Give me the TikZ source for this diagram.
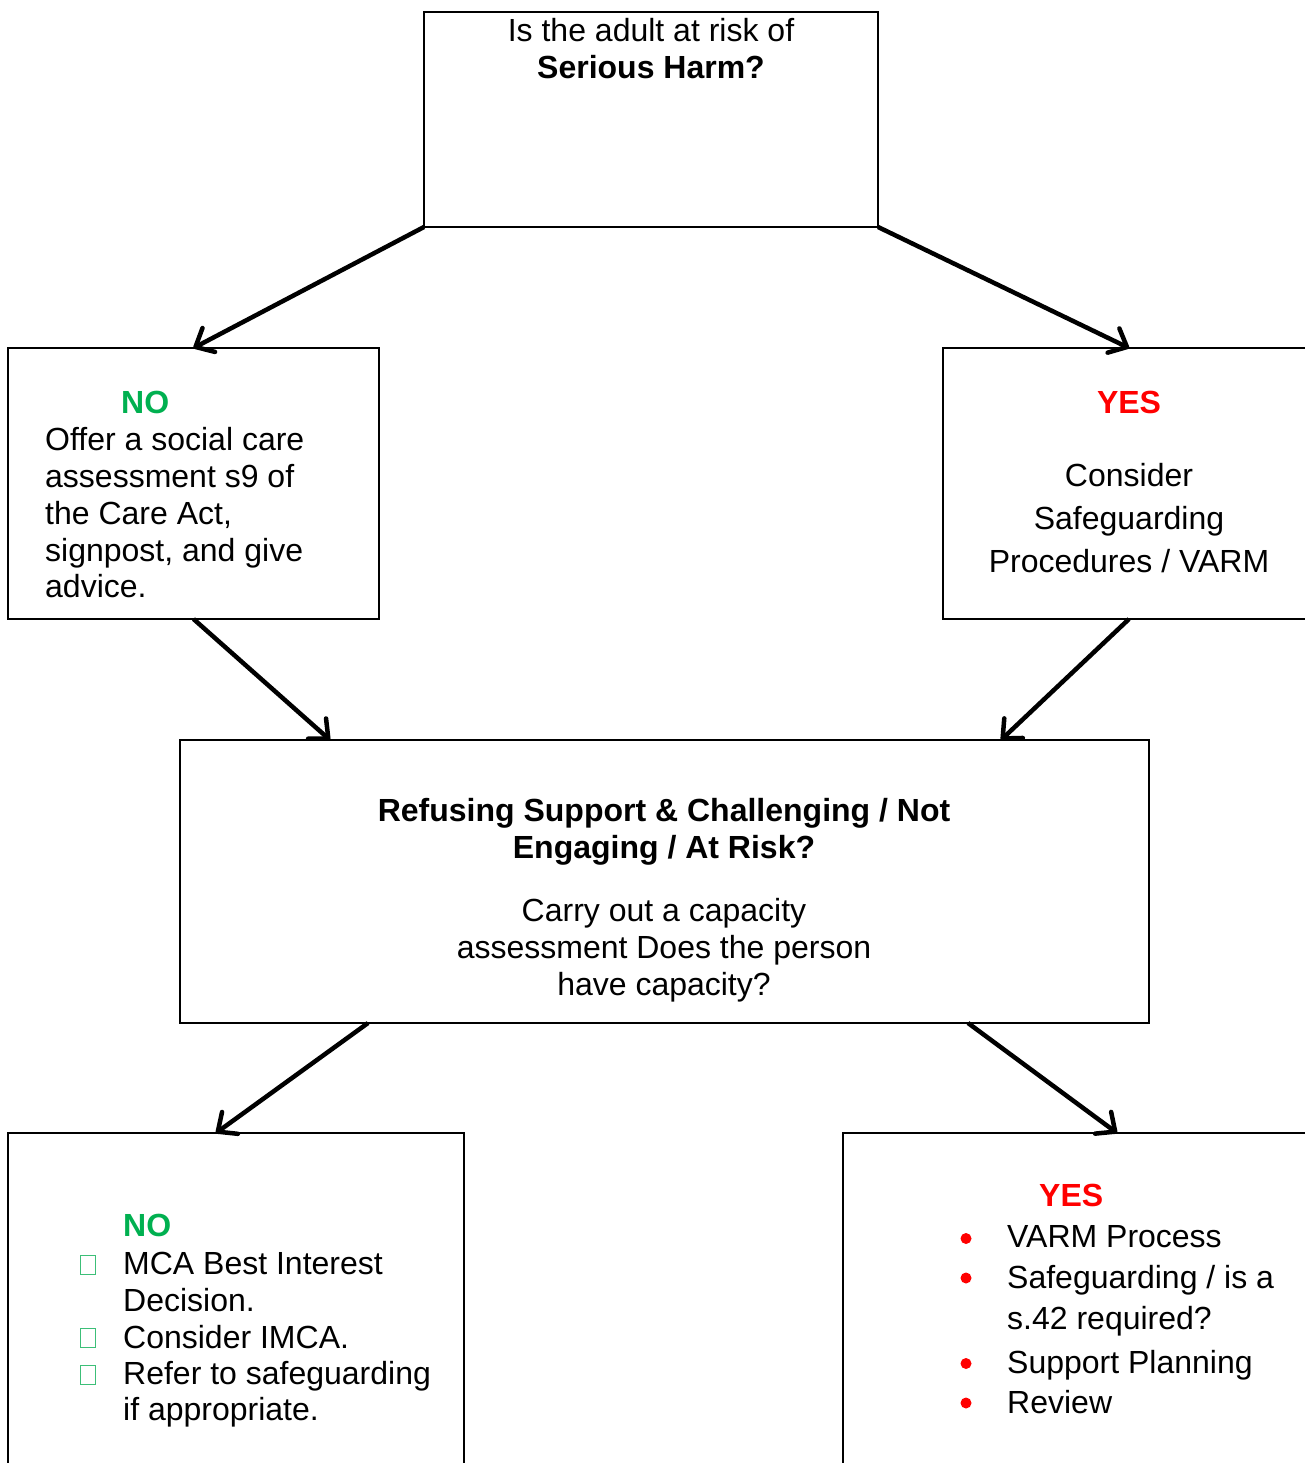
\documentclass[tikz,border=0pt]{standalone}
\usepackage{fontspec}
\setmainfont{Liberation Sans}
\usetikzlibrary{arrows.meta,calc}
\definecolor{nogreen}{HTML}{00B050}
\definecolor{sqgreen}{HTML}{3CBF78}
\definecolor{yesred}{HTML}{FF0000}
\begin{document}
\begin{tikzpicture}[x=1pt,y=-1pt,
  box/.style={draw, line width=1.3pt, rectangle, inner sep=0pt, outer sep=0pt, anchor=north west},
  conn/.style={line width=4.5pt, -{Straight Barb[length=15pt,width=27pt,round]}},
  txt/.style={inner sep=0pt, font=\fontsize{32}{37}\selectfont},
  bf/.style={txt, font=\fontsize{32}{37}\selectfont\bfseries},
  sqbullet/.style={draw=sqgreen, line width=0.9pt, rectangle, inner sep=0pt, minimum width=15pt, minimum height=19pt},
  dotbullet/.style={fill=yesred, circle, inner sep=0pt, minimum size=11pt}]
\useasboundingbox (0,0) rectangle (1305,1463);
\clip (0,0) rectangle (1305,1463);
\fill[white] (0,0) rectangle (1305,1463);
% boxes
\node[box, minimum width=454pt, minimum height=215pt] (top) at (424,12) {};
\node[box, minimum width=371pt, minimum height=271pt] (left) at (8,348) {};
\node[box, minimum width=372pt, minimum height=271pt] (right) at (943,348) {};
\node[box, minimum width=969pt, minimum height=283pt] (mid) at (180,740) {};
\node[box, minimum width=456pt, minimum height=380pt] (bl) at (8,1133) {};
\node[box, minimum width=472pt, minimum height=380pt] (br) at (843,1133) {};
% connectors
\draw[conn] (top.south west) -- (left.north);
\draw[conn] (top.south east) -- (right.north);
\draw[conn] (left.south) -- ($(mid.north west)+(150,0)$);
\draw[conn] (right.south) -- ($(mid.north west)+(821,0)$);
\draw[conn] ($(mid.south west)+(188,0)$) -- ($(bl.north west)+(208,0)$);
\draw[conn] ($(mid.south west)+(788,0)$) -- ($(br.north west)+(274,0)$);
% top text
\node[txt, anchor=base] (t1) at (651,42) {Is the adult at risk of};
\node[bf, anchor=base] (t2) at (651,79) {Serious Harm?};
% left text
\node[bf, anchor=base west, text=nogreen] (l0) at (121,413) {NO};
\node[txt, anchor=base west] (l1) at (45,450) {Offer a social care};
\node[txt, anchor=base west] (l2) at (45,487) {assessment s9 of};
\node[txt, anchor=base west] (l3) at (45,524) {the Care Act,};
\node[txt, anchor=base west] (l4) at (45,561) {signpost, and give};
\node[txt, anchor=base west] (l5) at (45,597) {advice.};
% right text
\node[bf, anchor=base, text=yesred] (r0) at (1129,413) {YES};
\node[txt, anchor=base] (r1) at (1129,486) {Consider};
\node[txt, anchor=base] (r2) at (1129,529) {Safeguarding};
\node[txt, anchor=base] (r3) at (1129,572) {Procedures / VARM};
% middle text
\node[bf, anchor=base] (m1) at (664,821) {Refusing Support \& Challenging / Not};
\node[bf, anchor=base] (m2) at (664,858) {Engaging / At Risk?};
\node[txt, anchor=base] (m3) at (664,921) {Carry out a capacity};
\node[txt, anchor=base] (m4) at (664,958) {assessment Does the person};
\node[txt, anchor=base] (m5) at (664,995) {have capacity?};
% bottom left text
\node[bf, anchor=base west, text=nogreen] (n0) at (123,1236) {NO};
\node[sqbullet] (s1) at (87.5,1265) {};
\node[txt, anchor=base west] (n1) at (123,1274) {MCA Best Interest};
\node[txt, anchor=base west] (n2) at (123,1311) {Decision.};
\node[sqbullet] (s2) at (87.5,1338) {};
\node[txt, anchor=base west] (n3) at (123,1348) {Consider IMCA.};
\node[sqbullet] (s3) at (87.5,1375) {};
\node[txt, anchor=base west] (n4) at (123,1384) {Refer to safeguarding};
\node[txt, anchor=base west] (n5) at (123,1420) {if appropriate.};
% bottom right text
\node[bf, anchor=base west, text=yesred] (y0) at (1039,1206) {YES};
\node[dotbullet] (d1) at (966,1238.5) {};
\node[txt, anchor=base west] (y1) at (1007,1247) {VARM Process};
\node[dotbullet] (d2) at (966,1278) {};
\node[txt, anchor=base west] (y2) at (1007,1288) {Safeguarding / is a};
\node[txt, anchor=base west] (y3) at (1007,1329) {s.42 required?};
\node[dotbullet] (d3) at (966,1363.5) {};
\node[txt, anchor=base west] (y4) at (1007,1373) {Support Planning};
\node[dotbullet] (d4) at (966,1403) {};
\node[txt, anchor=base west] (y5) at (1007,1413) {Review};
\end{tikzpicture}
\end{document}
